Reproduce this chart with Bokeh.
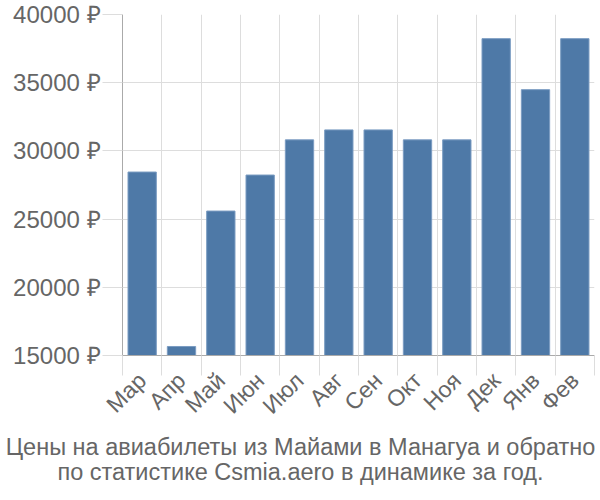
from bokeh.plotting import figure
from bokeh.models import FixedTicker, PrintfTickFormatter, Range1d, ColumnDataSource
from bokeh.layouts import column, row
from bokeh.core.properties import value
from bokeh.embed import file_html
from bokeh.resources import INLINE
import math

months = ["Мар", "Апр", "Май", "Июн", "Июл", "Авг", "Сен", "Окт", "Ноя", "Дек", "Янв", "Фев"]
prices = [28450, 15660, 25590, 28230, 30810, 31540, 31540, 30810, 30810, 38230, 34490, 38230]
y_ticks = [15000, 20000, 25000, 30000, 35000, 40000]
title_lines = ["Цены на авиабилеты из Майами в Манагуа и обратно",
               "по статистике Csmia.aero в динамике за год."]

n = len(months)
xs = [i + 0.5 for i in range(n)]
src = ColumnDataSource(dict(x=xs, top=prices))

font = "Liberation Sans"
grid_c = "#dddddd"

p = figure(width=600, height=430, output_backend="svg", toolbar_location=None,
           x_range=Range1d(0, n), y_range=Range1d(15000, 40000),
           min_border_left=122, min_border_right=6, min_border_top=14, min_border_bottom=75)
p.outline_line_color = None

p.vbar(x="x", top="top", bottom=15000, width=0.72, source=src,
       fill_color="#4e79a7", line_color="#7b9cc2", line_width=1)

# x axis
p.xaxis.ticker = FixedTicker(ticks=xs, minor_ticks=list(range(n + 1)))
p.xaxis.major_label_overrides = {x: m for x, m in zip(xs, months)}
p.xaxis.major_tick_line_color = None
p.xaxis.major_tick_out = 0
p.xaxis.minor_tick_out = 20
p.xaxis.minor_tick_in = 0
p.xaxis.minor_tick_line_color = grid_c
p.xaxis.axis_line_color = "#aaaaaa"
p.xaxis.major_label_orientation = math.pi / 4
p.xaxis.major_label_text_font = font
p.xaxis.major_label_text_font_size = "23px"
p.xaxis.major_label_text_color = "#666666"
p.xaxis.major_label_standoff = 1
p.xgrid.ticker = FixedTicker(ticks=list(range(n + 1)))
p.xgrid.grid_line_color = grid_c

# y axis
p.yaxis.ticker = FixedTicker(ticks=y_ticks)
p.yaxis.formatter = PrintfTickFormatter(format="%d ₽")
p.yaxis.major_tick_out = 20
p.yaxis.major_tick_in = 0
p.yaxis.major_tick_line_color = grid_c
p.yaxis.minor_tick_line_color = None
p.yaxis.axis_line_color = "#aaaaaa"
p.yaxis.major_label_text_font = font
p.yaxis.major_label_text_font_size = "24px"
p.yaxis.major_label_text_color = "#666666"
p.yaxis.major_label_standoff = 2
p.ygrid.grid_line_color = grid_c

# caption figure (pixel-like coordinates, y downward)
cap = figure(width=600, height=70, output_backend="svg", toolbar_location=None,
             x_range=Range1d(0, 600), y_range=Range1d(70, 0),
             min_border=0, x_axis_type=None, y_axis_type=None)
cap.outline_line_color = None
cap.xgrid.visible = False
cap.ygrid.visible = False
cap.text(x=[300, 300], y=[16, 41], text=title_lines, text_align="center",
         text_baseline="middle", text_font=value(font), text_font_size="23.5px",
         text_color="#666666")

layout = column(p, row(cap, spacing=0), spacing=0)
open("out.html", "w").write(file_html(layout, INLINE))
